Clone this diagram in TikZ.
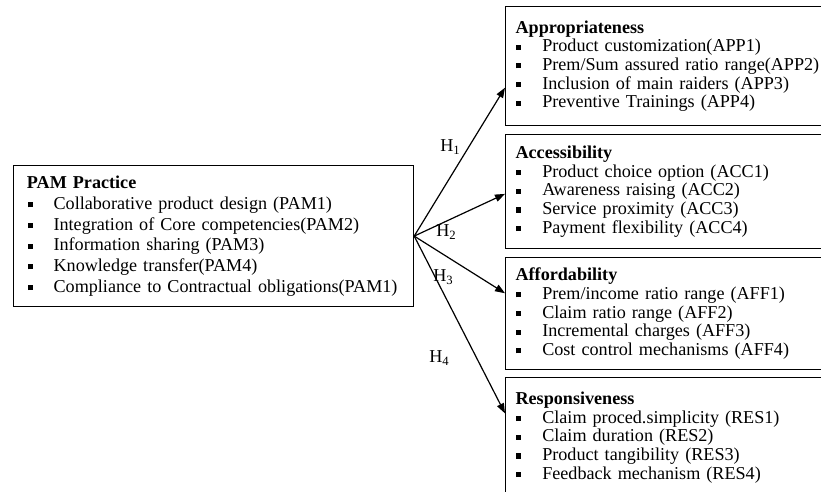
\documentclass[tikz,border=0pt]{standalone}
\usepackage{fontspec}
\setmainfont{Liberation Serif}
\usetikzlibrary{arrows.meta, positioning, calc}

% square bullet in front of each indicator
\newcommand{\bul}{\makebox[20pt][l]{\hspace{0.5pt}\rule[0.25ex]{3.8pt}{3.8pt}}}
\newcommand{\hyp}[1]{H\raisebox{-0.35ex}{\fontsize{9.5}{9.5}\selectfont #1}}

\tikzset{
  box/.style={draw, line width=0.9pt, anchor=north west, align=left, inner ysep=0pt},
  pambox/.style={box, inner xsep=10pt, text width=280pt, minimum height=105.75pt,
    font=\fontsize{13.6}{15.5}\selectfont},
  dimbox/.style={box, inner xsep=7.5pt, text width=232pt,
    font=\fontsize{13.6}{14}\selectfont},
  link/.style={-{Triangle[length=7.5pt,width=5.5pt]}, line width=0.9pt},
  hlab/.style={font=\fontsize{13.6}{14}\selectfont, inner sep=0pt},
}

\begin{document}
\begin{tikzpicture}[x=0.75pt, y=-0.75pt]
\useasboundingbox (0,0) rectangle (821,492);

\node[pambox] (pam) at (13,165) {\textbf{PAM Practice}\\
  \bul Collaborative product design (PAM1)\\
  \bul Integration of Core competencies(PAM2)\\
  \bul Information sharing (PAM3)\\
  \bul Knowledge transfer(PAM4)\\
  \bul Compliance to Contractual obligations(PAM1)};

\node[dimbox, minimum height=89.25pt] (app) at (505,6) {\textbf{Appropriateness}\\
  \bul Product customization(APP1)\\
  \bul Prem/Sum assured ratio range(APP2)\\
  \bul Inclusion of main raiders (APP3)\\
  \bul Preventive Trainings (APP4)};

\node[dimbox, minimum height=85.5pt] (acc) at (505,134) {\textbf{Accessibility}\\
  \bul Product choice option (ACC1)\\
  \bul Awareness raising (ACC2)\\
  \bul Service proximity (ACC3)\\
  \bul Payment flexibility (ACC4)};

\node[dimbox, minimum height=84pt] (aff) at (505,257) {\textbf{Affordability}\\
  \bul Prem/income ratio range (AFF1)\\
  \bul Claim ratio range (AFF2)\\
  \bul Incremental charges (AFF3)\\
  \bul Cost control mechanisms (AFF4)};

\node[dimbox, minimum height=90pt] (res) at (505,377) {\textbf{Responsiveness}\\
  \bul Claim proced.simplicity (RES1)\\
  \bul Claim duration (RES2)\\
  \bul Product tangibility (RES3)\\
  \bul Feedback mechanism (RES4)};

\draw[link] (pam.east) -- ($(app.south west)!0.32!(app.north west)$);
\draw[link] (pam.east) -- ($(acc.south west)!0.48!(acc.north west)$);
\draw[link] (pam.east) -- ($(aff.south west)!0.68!(aff.north west)$);
\draw[link] (pam.east) -- ($(res.south west)!0.70!(res.north west)$);

\node[hlab] (h1) at (450,147) {\hyp{1}};
\node[hlab] (h2) at (446,232) {\hyp{2}};
\node[hlab] (h3) at (443,277) {\hyp{3}};
\node[hlab] (h4) at (439,358) {\hyp{4}};
\end{tikzpicture}
\end{document}
